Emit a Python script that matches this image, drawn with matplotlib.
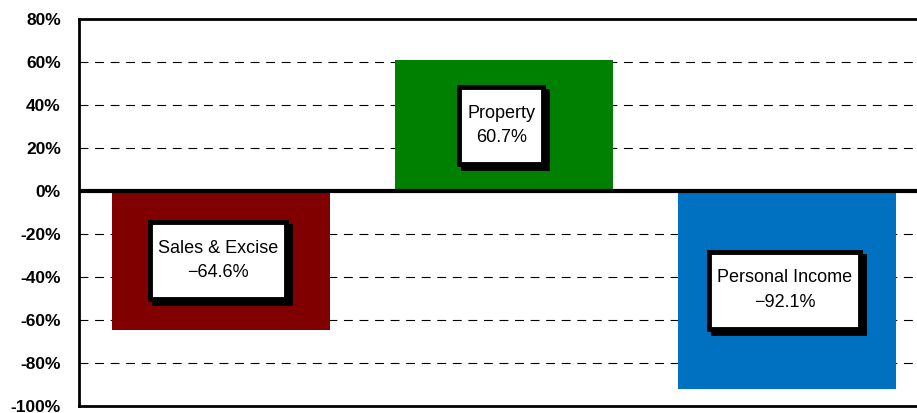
import matplotlib
matplotlib.use("Agg")
import matplotlib.pyplot as plt
from matplotlib.patches import Rectangle

categories = ["Sales & Excise", "Property", "Personal Income"]
values = [-64.6, 60.7, -92.1]
colors = ["#800000", "#008000", "#0070C0"]
yticks = [-100, -80, -60, -40, -20, 0, 20, 40, 60, 80]
ytick_labels = ["-100%", "-80%", "-60%", "-40%", "-20%", "0%", "20%", "40%", "60%", "80%"]

fig = plt.figure(figsize=(9.17, 4.13), dpi=100)
ax = fig.add_axes([79/917, 7/413, (929-79)/917, 387/413])

x = list(range(len(categories)))
ax.bar(x, values, width=0.77, color=colors, zorder=2)
ax.set_xlim(-0.5, 2.5)
ax.set_ylim(-100, 80)
ax.set_yticks(yticks)
ax.set_yticklabels(ytick_labels, fontfamily="Liberation Sans", fontweight="bold", fontsize=12.5)
ax.tick_params(axis="y", length=0, pad=13)
ax.set_xticks([])
for y in yticks:
    if y not in (0, -100, 80):
        ax.axhline(y, color="black", lw=0.8, dashes=(8, 6), zorder=1)
ax.axhline(0, color="black", lw=3, zorder=3)
for s in ax.spines.values():
    s.set_linewidth(2)

texts = []
for xi, v, c in zip(x, values, categories):
    label = f"{c}\n{v:.1f}%".replace("-", "\u2212")
    t = ax.text(xi - 0.01, v / 2, label, ha="center", va="center",
                fontfamily="Liberation Sans", fontsize=13, linespacing=1.55, zorder=6)
    texts.append(t)

fig.canvas.draw()
r = fig.canvas.get_renderer()
inv = ax.transData.inverted()
for t in texts:
    bb = t.get_window_extent(r)
    cx, cy = (bb.x0 + bb.x1) / 2, (bb.y0 + bb.y1) / 2
    w = bb.width + 16
    h = 77
    for dx, dy, fc, z in [(4, -4, "black", 4), (0, 0, "white", 5)]:
        (x0, y0) = inv.transform((cx - w / 2 + dx, cy - h / 2 + dy))
        (x1, y1) = inv.transform((cx + w / 2 + dx, cy + h / 2 + dy))
        ax.add_patch(Rectangle((x0, y0), x1 - x0, y1 - y0, fc=fc, ec="black",
                               lw=3.5, zorder=z))

fig.savefig("out.png", dpi=100)
